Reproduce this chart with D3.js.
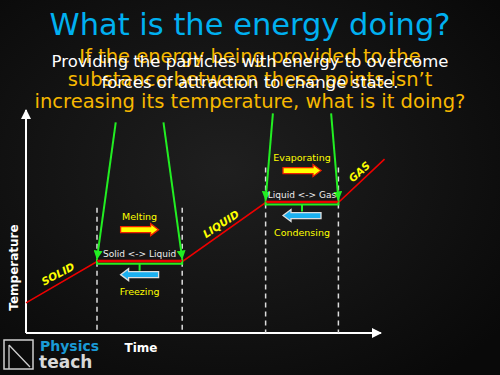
<!DOCTYPE html>
<html>
<head>
<meta charset="utf-8">
<script src="https://cdn.jsdelivr.net/npm/d3@7"></script>
<style>
  html, body { margin: 0; padding: 0; background: #0c0c0c; }
  svg { display: block; }
</style>
</head>
<body>
<div id="chart"></div>
<script>
const width = 500, height = 375;

// heating curve: time vs temperature (arbitrary units)
const curveTime = [0, 20, 44, 67.5, 88, 101];
const curveTemp = [13.5, 32, 32, 58.5, 58.5, 78];

// phase-change plateaus [start, end] in time units
const plateaus = [
  {start: 20, end: 44, temp: 32, label: 'Solid <-> Liquid', up: 'Melting', down: 'Freezing', top: 94.5},
  {start: 67.5, end: 88, temp: 58.5, label: 'Liquid <-> Gas', up: 'Evaporating', down: 'Condensing', top: 98.5}
];

// state labels along the slopes
const states = ['SOLID', 'LIQUID', 'GAS'];
const stateTime = [9.5, 55.5, 94.6];
const stateTemp = [25, 47.5, 71];
const stateAngle = [-28, -33, -42];

const titleText = 'What is the energy doing?';
const whiteLines = ['Providing the particles with energy to overcome', 'forces of attraction to change state.'];
const orangeLines = ['If the energy being provided to the', 'substance between these points isn\u2019t', 'increasing its temperature, what is it doing?'];

const margin = {left: 26, right: 119, top: 110, bottom: 42};

const svg = d3.select('#chart').append('svg')
  .attr('width', width)
  .attr('height', height);

// background with a soft lighter centre
const defs = svg.append('defs');
const bg = defs.append('radialGradient').attr('id', 'bg')
  .attr('cx', '45%').attr('cy', '45%').attr('r', '70%');
bg.append('stop').attr('offset', '0%').attr('stop-color', '#1f1f1f');
bg.append('stop').attr('offset', '100%').attr('stop-color', '#090909');
svg.append('rect').attr('width', width).attr('height', height).attr('fill', 'url(#bg)');

const mk = (id, color, w, h) => defs.append('marker').attr('id', id)
  .attr('viewBox', '0 0 10 10').attr('refX', 9).attr('refY', 5)
  .attr('markerWidth', w).attr('markerHeight', h).attr('orient', 'auto')
  .attr('markerUnits', 'userSpaceOnUse')
  .append('path').attr('d', 'M0,0L10,5L0,10z').attr('fill', color);
mk('axisArrow', 'white', 11, 10);
mk('greenArrow', '#22ee22', 9, 9);

const x = d3.scaleLinear().domain([0, 100]).range([margin.left, width - margin.right]);
const y = d3.scaleLinear().domain([0, 100]).range([height - margin.bottom, margin.top]);

// ===============================================================
// Title and overlapping texts
svg.append('text')
  .attr('x', 250).attr('y', 35)
  .attr('text-anchor', 'middle')
  .attr('fill', '#00b0f0')
  .style('font-family', 'DejaVu Sans, sans-serif')
  .style('font-size', '30.5px')
  .text(titleText);

svg.append('g').selectAll('text')
  .data(orangeLines)
  .enter().append('text')
  .attr('x', 250).attr('y', (d, i) => 63 + i * 22.5)
  .attr('text-anchor', 'middle')
  .attr('fill', '#f7b800')
  .style('font-family', 'DejaVu Sans, sans-serif')
  .style('font-size', '19.5px')
  .text(d => d);

svg.append('g').selectAll('text')
  .data(whiteLines)
  .enter().append('text')
  .attr('x', 250).attr('y', (d, i) => 67 + i * 21)
  .attr('text-anchor', 'middle')
  .attr('fill', 'white')
  .style('font-family', 'DejaVu Sans, sans-serif')
  .style('font-size', '16.5px')
  .text(d => d);

// ===============================================================
// Axes
const axes = svg.append('g');
axes.append('line')
  .attr('x1', x(0)).attr('y1', y(0)).attr('x2', x(0)).attr('y2', y(100))
  .attr('stroke', 'white').attr('stroke-width', 2)
  .attr('marker-end', 'url(#axisArrow)');
axes.append('line')
  .attr('x1', x(0)).attr('y1', y(0)).attr('x2', x(100)).attr('y2', y(0))
  .attr('stroke', 'white').attr('stroke-width', 2)
  .attr('marker-end', 'url(#axisArrow)');

axes.append('text')
  .attr('transform', `translate(18,${(y(0) + y(100)) / 2 + 46}) rotate(-90)`)
  .attr('text-anchor', 'middle')
  .attr('fill', 'white')
  .style('font-family', 'DejaVu Sans, sans-serif')
  .style('font-size', '12px')
  .style('font-weight', 'bold')
  .text('Temperature');

axes.append('text')
  .attr('x', 141).attr('y', 352)
  .attr('text-anchor', 'middle')
  .attr('fill', 'white')
  .style('font-family', 'DejaVu Sans, sans-serif')
  .style('font-size', '12px')
  .style('font-weight', 'bold')
  .text('Time');

// ===============================================================
// Dashed guides at phase change
const guides = svg.append('g');
plateaus.forEach(p => {
  [p.start, p.end].forEach(t => {
    guides.append('line')
      .attr('x1', x(t)).attr('x2', x(t))
      .attr('y1', y(p.temp) - 54 + (p.temp > 50 ? 19 : 0)).attr('y2', y(0))
      .attr('stroke', '#dddddd').attr('stroke-width', 1.5)
      .attr('stroke-dasharray', '5,4');
  });
});

// ===============================================================
// Heating curve
const pts = curveTime.map((t, i) => ({t, temp: curveTemp[i]}));
svg.append('path')
  .attr('d', d3.line().x(d => x(d.t)).y(d => y(d.temp))(pts))
  .attr('fill', 'none')
  .attr('stroke', '#ee0000')
  .attr('stroke-width', 1.6);

// state labels
svg.append('g').selectAll('text')
  .data(states)
  .enter().append('text')
  .attr('transform', (d, i) => `translate(${x(stateTime[i])},${y(stateTemp[i])}) rotate(${stateAngle[i]})`)
  .attr('text-anchor', 'middle')
  .attr('fill', '#ffff00')
  .style('font-family', 'DejaVu Sans, sans-serif')
  .style('font-size', '10.5px')
  .style('font-weight', 'bold')
  .style('font-style', 'italic')
  .text(d => d);

// ===============================================================
// Plateau annotations
const ann = svg.append('g');
plateaus.forEach(p => {
  const x0 = x(p.start), x1 = x(p.end), yp = y(p.temp);
  const mid = (x0 + x1) / 2;
  const span = x1 - x0;
  const inset = p.temp > 50 ? 0.1 : 0.22;

  // green pointer lines from the question down to the plateau ends
  ann.append('line')
    .attr('x1', x0 + span * inset).attr('y1', y(p.top))
    .attr('x2', x0).attr('y2', yp - 3)
    .attr('stroke', '#22ee22').attr('stroke-width', 2)
    .attr('marker-end', 'url(#greenArrow)');
  ann.append('line')
    .attr('x1', x1 - span * inset).attr('y1', y(p.top))
    .attr('x2', x1).attr('y2', yp - 3)
    .attr('stroke', '#22ee22').attr('stroke-width', 2)
    .attr('marker-end', 'url(#greenArrow)');

  // bracket under plateau
  ann.append('path')
    .attr('d', `M${x0},${yp - 3}V${yp + 2}H${x1}V${yp - 3}M${mid},${yp + 2}V${yp + 9}`)
    .attr('fill', 'none')
    .attr('stroke', '#22ee22').attr('stroke-width', 2);

  // red plateau line over the bracket
  ann.append('line')
    .attr('x1', x0).attr('x2', x1).attr('y1', yp - 1).attr('y2', yp - 1)
    .attr('stroke', '#ee0000').attr('stroke-width', 1.6);

  ann.append('text')
    .attr('x', mid).attr('y', yp - 5)
    .attr('text-anchor', 'middle')
    .attr('fill', '#eeeeee')
    .style('font-family', 'DejaVu Sans, sans-serif')
    .style('font-size', '9px')
    .text(p.label);

  ann.append('text')
    .attr('x', mid).attr('y', yp - 42)
    .attr('text-anchor', 'middle')
    .attr('fill', '#ffff00')
    .style('font-family', 'DejaVu Sans, sans-serif')
    .style('font-size', '9.5px')
    .text(p.up);

  ann.append('text')
    .attr('x', mid).attr('y', yp + 33)
    .attr('text-anchor', 'middle')
    .attr('fill', '#ffff00')
    .style('font-family', 'DejaVu Sans, sans-serif')
    .style('font-size', '9.5px')
    .text(p.down);

  // block arrows: right (yellow/red), left (blue/white)
  const ax0 = mid - 19, ax1 = mid + 19;
  const ay = yp - 32, by = yp + 13;
  ann.append('path')
    .attr('d', `M${ax0},${ay - 3}H${ax1 - 8}V${ay - 6}L${ax1},${ay}L${ax1 - 8},${ay + 6}V${ay + 3}H${ax0}Z`)
    .attr('fill', '#ffff00').attr('stroke', '#ee2200').attr('stroke-width', 1.3);
  ann.append('path')
    .attr('d', `M${ax1},${by - 3}H${ax0 + 8}V${by - 6}L${ax0},${by}L${ax0 + 8},${by + 6}V${by + 3}H${ax1}Z`)
    .attr('fill', '#1cb0f0').attr('stroke', '#dddddd').attr('stroke-width', 1.3);
});

// ===============================================================
// Logo
const logo = svg.append('g');
logo.append('rect')
  .attr('x', 4).attr('y', 340).attr('width', 29).attr('height', 29)
  .attr('fill', 'none').attr('stroke', '#cfcfcf').attr('stroke-width', 1.5);
logo.append('path')
  .attr('d', 'M9,345V369M9,345L30,367')
  .attr('fill', 'none').attr('stroke', '#cfcfcf').attr('stroke-width', 1.3);
logo.append('text')
  .attr('x', 40).attr('y', 351)
  .attr('fill', '#1a9ad6')
  .style('font-family', 'DejaVu Sans, sans-serif')
  .style('font-size', '14px')
  .style('font-weight', 'bold')
  .text('Physics');
logo.append('text')
  .attr('x', 39).attr('y', 368)
  .attr('fill', '#d8d8d8')
  .style('font-family', 'DejaVu Sans, sans-serif')
  .style('font-size', '17px')
  .style('font-weight', 'bold')
  .text('teach');
</script>
</body>
</html>
